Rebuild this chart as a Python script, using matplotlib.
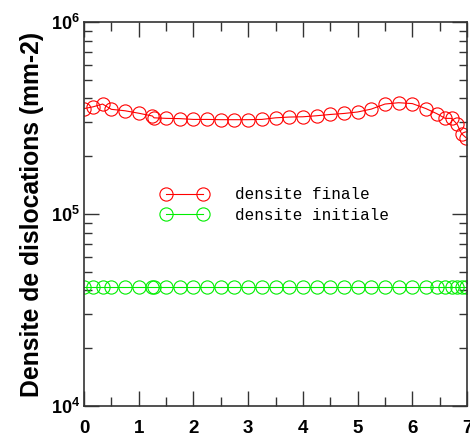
import matplotlib
matplotlib.use("Agg")
import matplotlib.pyplot as plt
from matplotlib.ticker import LogLocator, FixedLocator, NullFormatter

plt.rcParams['font.family'] = ['Liberation Sans', 'DejaVu Sans']
plt.rcParams['mathtext.fontset'] = 'custom'
plt.rcParams['mathtext.rm'] = 'Liberation Sans:bold'
plt.rcParams['mathtext.bf'] = 'Liberation Sans:bold'
plt.rcParams['mathtext.default'] = 'bf'

# positions along the sample (shared by both curves)
x = [0, 0.17, 0.34, 0.5, 0.75, 1.0, 1.25, 1.28, 1.5, 1.75, 2.0, 2.25, 2.5,
     2.75, 3.0, 3.25, 3.5, 3.75, 4.0, 4.25, 4.5, 4.75, 5.0, 5.25, 5.5, 5.75,
     6.0, 6.25, 6.45, 6.6, 6.72, 6.82, 6.9, 6.98]

# final dislocation density (mm-2)
densite_finale = [3.54e5, 3.62e5, 3.74e5, 3.51e5, 3.45e5, 3.35e5, 3.24e5, 3.17e5,
                  3.15e5, 3.14e5, 3.11e5, 3.11e5, 3.10e5, 3.10e5, 3.10e5, 3.11e5,
                  3.17e5, 3.20e5, 3.21e5, 3.25e5, 3.30e5, 3.34e5, 3.40e5, 3.52e5,
                  3.74e5, 3.80e5, 3.76e5, 3.54e5, 3.33e5, 3.15e5, 3.15e5, 2.93e5,
                  2.62e5, 2.50e5]

# initial dislocation density (mm-2)
densite_initiale = [4.18e4] * len(x)

xticks = [0, 1, 2, 3, 4, 5, 6, 7]
yticks = [1e4, 1e5, 1e6]
ytick_labels = [r'$10^{4}$', r'$10^{5}$', r'$10^{6}$']

fig = plt.figure(figsize=(4.70, 4.38), dpi=100)
ax = fig.add_axes([0.1787, 0.073, 0.815, 0.8767])

mk = dict(marker='o', markersize=9.5, markerfacecolor='none',
          markeredgewidth=0.8, linewidth=0.8)
ax.plot(x, densite_finale, color='#ff0000', label='densite finale', **mk)
ax.plot(x, densite_initiale, color='#00ee00', label='densite initiale', **mk)

ax.set_yscale('log')
ax.set_xlim(0, 7)
ax.set_ylim(1e4, 1e6)

ax.xaxis.set_major_locator(FixedLocator(xticks))
ax.xaxis.set_minor_locator(FixedLocator([0.5 + i for i in range(7)]))
ax.set_xticklabels([str(t) for t in xticks])
ax.yaxis.set_major_locator(FixedLocator(yticks))
ax.set_yticklabels(ytick_labels)
ax.yaxis.set_minor_locator(LogLocator(base=10, subs=range(2, 10)))
ax.yaxis.set_minor_formatter(NullFormatter())

ax.tick_params(which='both', direction='in', top=True, right=True,
               color='#333333', width=1.0)
ax.tick_params(axis='x', which='major', length=11, pad=10, labelsize=13.5)
ax.tick_params(axis='x', which='minor', length=6.5)
ax.tick_params(axis='y', which='major', length=11, pad=3, labelsize=13)
ax.tick_params(axis='y', which='minor', length=5.5)
for lbl in ax.get_xticklabels():
    lbl.set_fontweight('bold')

for s in ax.spines.values():
    s.set_linewidth(1.2)
    s.set_color('#333333')

ax.set_ylabel('Densite de dislocations (mm-2)', fontsize=17.8,
              fontweight='bold', labelpad=5)

leg = ax.legend(loc='upper left', bbox_to_anchor=(0.165, 0.607), frameon=False,
                numpoints=2, handlelength=2.9, handletextpad=1.7,
                labelspacing=0.35, prop={'family': 'Liberation Mono', 'size': 11.5})

fig.savefig('out.png', dpi=100)
